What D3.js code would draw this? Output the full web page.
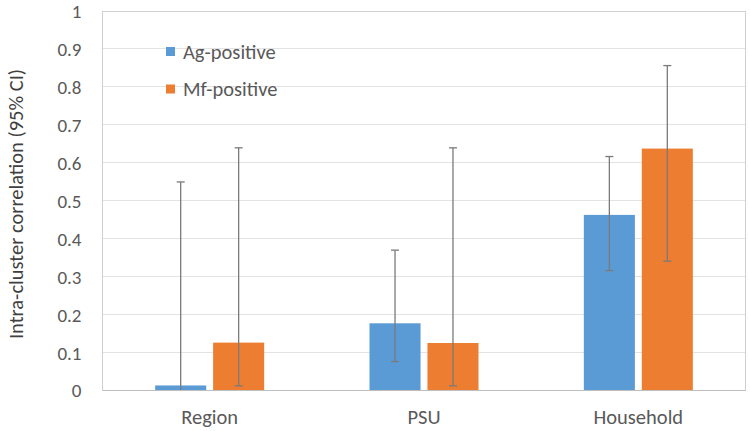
<!DOCTYPE html>
<html><head><meta charset="utf-8">
<script src="https://cdn.jsdelivr.net/npm/d3@7"></script>
<style>body{margin:0;background:#fff}svg{display:block;font-family:Carlito,Lato,"Open Sans","Liberation Sans",sans-serif}</style>
</head><body><svg id="c" width="750" height="431"></svg>
<script>
const categories = ["Region", "PSU", "Household"];
const seriesNames = ["Ag-positive", "Mf-positive"];
const agValues = [0.012, 0.176, 0.462];
const agLower = [0.0, 0.075, 0.315];
const agUpper = [0.549, 0.369, 0.616];
const mfValues = [0.125, 0.124, 0.637];
const mfLower = [0.011, 0.011, 0.34];
const mfUpper = [0.639, 0.639, 0.856];
const yTicks = [0, 0.1, 0.2, 0.3, 0.4, 0.5, 0.6, 0.7, 0.8, 0.9, 1];
const colors = ["#5B9BD5", "#ED7D31"];

const svg = d3.select("#c");
const m = {l: 102.5, r: 745.5, t: 11, b: 390};
const x = d3.scaleBand().domain(categories).range([m.l, m.r]);
const xs = d3.scaleBand().domain(seriesNames).range([0, 109]).paddingInner(13/109);
const y = d3.scaleLinear().domain([0, 1]).range([m.b, m.t]);

// gridlines
svg.append("g").selectAll("line").data(yTicks.slice(1)).join("line")
  .attr("x1", m.l).attr("x2", m.r).attr("y1", d => y(d)).attr("y2", d => y(d))
  .attr("stroke", "#e3e3e3").attr("stroke-width", 1).attr("shape-rendering", "crispEdges");
// plot border
svg.append("rect").attr("x", m.l).attr("y", m.t).attr("width", m.r - m.l).attr("height", m.b - m.t)
  .attr("fill", "none").attr("stroke", "#d0d0d0").attr("shape-rendering", "crispEdges");

const data = [];
categories.forEach((c, i) => {
  data.push({c, s: seriesNames[0], v: agValues[i], lo: agLower[i], hi: agUpper[i], col: colors[0]});
  data.push({c, s: seriesNames[1], v: mfValues[i], lo: mfLower[i], hi: mfUpper[i], col: colors[1]});
});
const gx = d => x(d.c) + x.bandwidth() / 2 - 54.5 + xs(d.s);

svg.append("g").selectAll("rect").data(data).join("rect")
  .attr("x", gx).attr("width", xs.bandwidth())
  .attr("y", d => y(d.v)).attr("height", d => y(0) - y(d.v))
  .attr("fill", d => d.col);

// axis line
svg.append("line").attr("x1", m.l).attr("x2", m.r).attr("y1", y(0)).attr("y2", y(0))
  .attr("stroke", "#bfbfbf").attr("shape-rendering", "crispEdges");

// error bars
const eb = svg.append("g").attr("stroke", "#7a7a7a").attr("stroke-width", 1.3);
data.forEach(d => {
  const cx = gx(d) + xs.bandwidth() / 2;
  eb.append("line").attr("x1", cx).attr("x2", cx).attr("y1", y(d.lo)).attr("y2", y(d.hi));
  eb.append("line").attr("x1", cx - 4).attr("x2", cx + 4).attr("y1", y(d.hi)).attr("y2", y(d.hi));
  if (d.lo > 0) eb.append("line").attr("x1", cx - 4).attr("x2", cx + 4).attr("y1", y(d.lo)).attr("y2", y(d.lo));
});

// y tick labels
svg.append("g").selectAll("text").data(yTicks).join("text")
  .attr("x", 81.5).attr("y", d => y(d) + 7.4).attr("text-anchor", "end")
  .attr("font-size", 19).attr("fill", "#595959").text(d => d3.format("")(d));

// x labels
svg.append("g").selectAll("text").data(categories).join("text")
  .attr("x", d => x(d) + x.bandwidth() / 2).attr("y", 424).attr("text-anchor", "middle")
  .attr("font-size", 20.5).attr("fill", "#595959").text(d => d);

// y title
svg.append("text").attr("transform", "translate(23,204) rotate(-90)").attr("text-anchor", "middle")
  .attr("font-size", 20.5).attr("fill", "#404040").text("Intra-cluster correlation (95% CI)");

// legend
const lg = svg.append("g");
seriesNames.forEach((s, i) => {
  lg.append("rect").attr("x", 166).attr("y", 47 + i * 37.5).attr("width", 9).attr("height", 9).attr("fill", colors[i]);
  lg.append("text").attr("x", 183).attr("y", 58.5 + i * 37.5).attr("font-size", 20.5).attr("fill", "#595959").text(s);
});
</script></body></html>
